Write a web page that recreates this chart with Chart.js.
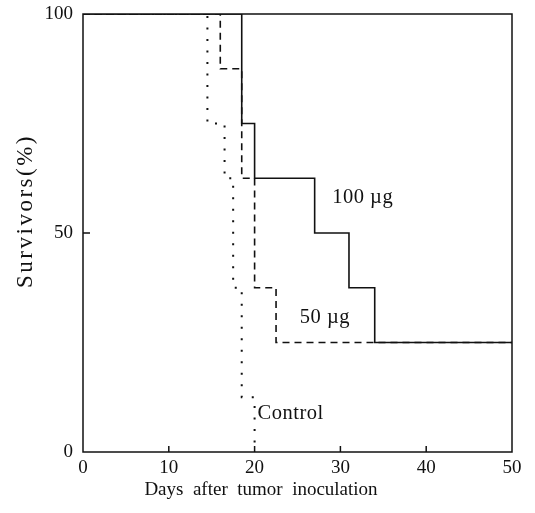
<!DOCTYPE html>
<html>
<head>
<meta charset="utf-8">
<script src="https://cdn.jsdelivr.net/npm/chart.js@4.4.1/dist/chart.umd.min.js"></script>
<style>
  html, body { margin: 0; padding: 0; background: #fff; }
  #wrap { width: 535px; height: 513px; }
</style>
</head>
<body>
<div id="wrap"><canvas id="survival"></canvas></div>
<script>
// survival curves (step at each death)
var days100 = [0, 18.5, 20, 27, 31, 34, 50];
var surv100 = [100, 75, 62.5, 50, 37.5, 25, 25];

var days50 = [0, 16, 18.5, 20, 22.5, 50];
var surv50 = [100, 87.5, 62.5, 37.5, 25, 25];

var daysCtrl = [0, 14.5, 16.5, 17.5, 18.5, 20];
var survCtrl = [100, 75, 62.5, 37.5, 12.5, 0];

var xTicks = [0, 10, 20, 30, 40, 50];
var yTicks = [0, 50, 100];

var curveNames = ["100 \u00b5g", "50 \u00b5g", "Control"];

function toPoints(xs, ys) {
    return xs.map(function (x, i) { return { x: x, y: ys[i] } })
}

var ink = "#111";
var serif = "'Liberation Serif', 'Times New Roman', serif";

// curve labels placed in data coordinates
var curveLabels = [
    { text: curveNames[0], x: 32.6, y: 58 },
    { text: curveNames[1], x: 28.2, y: 30.6 },
    { text: curveNames[2], x: 24.2, y: 8.7 }
];

var framePlugin = {
    id: "frame",
    afterDatasetsDraw: function (chart) {
        var ctx = chart.ctx;
        var a = chart.chartArea;
        var xs = chart.scales.x, ys = chart.scales.y;
        ctx.save();
        ctx.strokeStyle = ink;
        ctx.lineWidth = 1.5;
        ctx.strokeRect(a.left, a.top, a.right - a.left, a.bottom - a.top);

        // inner tick marks
        ctx.beginPath();
        [10, 20, 30, 40].forEach(function (v) {
            var px = xs.getPixelForValue(v);
            ctx.moveTo(px, a.bottom);
            ctx.lineTo(px, a.bottom - 6);
        });
        var py = ys.getPixelForValue(50);
        ctx.moveTo(a.left, py);
        ctx.lineTo(a.left + 7, py);
        ctx.stroke();

        // curve labels
        ctx.fillStyle = ink;
        ctx.font = "20.5px " + serif;
        ctx.textAlign = "center";
        ctx.textBaseline = "middle";
        ctx.letterSpacing = "0.5px";
        curveLabels.forEach(function (l) {
            ctx.fillText(l.text, xs.getPixelForValue(l.x), ys.getPixelForValue(l.y));
        });

        // axis titles
        ctx.letterSpacing = "0px";
        ctx.font = "19px " + serif;
        ctx.fillText("Days  after  tumor  inoculation", 261, 490);
        ctx.translate(26, 211);
        ctx.rotate(-Math.PI / 2);
        ctx.font = "23px " + serif;
        ctx.letterSpacing = "2.5px";
        ctx.fillText("Survivors(%)", 0, 0);
        ctx.restore();
    }
};

var survivalCanvas = document.getElementById("survival");

new Chart(survivalCanvas, {
    type: "line",
    data: {
        datasets: [
            {
                label: curveNames[0],
                data: toPoints(days100, surv100),
                borderColor: ink,
                borderWidth: 1.6
            },
            {
                label: curveNames[1],
                data: toPoints(days50, surv50),
                borderColor: ink,
                borderWidth: 1.6,
                borderDash: [7, 5]
            },
            {
                label: curveNames[2],
                data: toPoints(daysCtrl, survCtrl),
                borderColor: ink,
                borderWidth: 2,
                borderDash: [2, 9.5]
            }
        ]
    },
    options: {
        responsive: true,
        maintainAspectRatio: false,
        animation: false,
        layout: { padding: { top: 14, right: 23, left: 0, bottom: 0 } },
        elements: {
            line: { stepped: true, tension: 0, fill: false },
            point: { radius: 0 }
        },
        plugins: {
            legend: { display: false },
            tooltip: { enabled: false }
        },
        scales: {
            x: {
                type: "linear",
                min: 0,
                max: 50,
                afterBuildTicks: function (scale) {
                    scale.ticks = xTicks.map(function (v) { return { value: v } });
                },
                afterFit: function (scale) {
                    scale.height = 61;
                    scale.paddingLeft = 0;
                    scale.paddingRight = 0;
                },
                grid: { display: false, drawTicks: false },
                border: { display: false },
                ticks: { color: ink, padding: 5, font: { family: serif, size: 19 } }
            },
            y: {
                type: "linear",
                min: 0,
                max: 100,
                afterBuildTicks: function (scale) {
                    scale.ticks = yTicks.map(function (v) { return { value: v } });
                },
                afterFit: function (scale) {
                    scale.width = 83;
                    scale.paddingTop = 0;
                    scale.paddingBottom = 0;
                },
                grid: { display: false, drawTicks: false },
                border: { display: false },
                ticks: { color: ink, padding: 10, font: { family: serif, size: 19 } }
            }
        }
    },
    plugins: [framePlugin]
});
</script>
</body>
</html>
